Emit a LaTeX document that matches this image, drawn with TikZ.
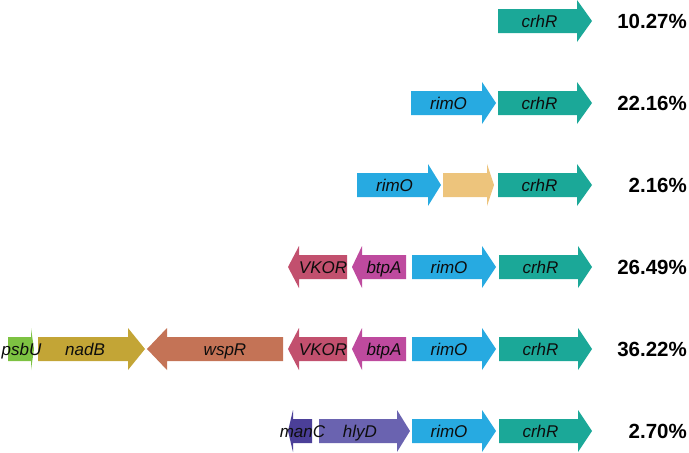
\documentclass[tikz,border=0pt]{standalone}
\usepackage{fontspec}
\setmainfont{Liberation Sans}
\definecolor{crhRc}{HTML}{1BA898}
\definecolor{rimOc}{HTML}{27AAE1}
\definecolor{yelc}{HTML}{EDC47C}
\definecolor{vkorc}{HTML}{C2506E}
\definecolor{btpAc}{HTML}{BE4A9E}
\definecolor{wspRc}{HTML}{C47356}
\definecolor{nadBc}{HTML}{C3A536}
\definecolor{psbUc}{HTML}{7DC242}
\definecolor{manCc}{HTML}{4B3F98}
\definecolor{hlyDc}{HTML}{6A63B0}
\tikzset{
  genelabel/.style={font=\fontsize{17}{17}\selectfont\itshape, anchor=base, inner sep=0pt, text=black!95},
  pct/.style={font=\fontsize{20.5}{21}\selectfont\bfseries, anchor=base east, inner sep=0pt},
}
% right-pointing gene: name, left, head base, tip, y, colour, label
\newcommand\rgene[7]{%
  \fill[#6] (#2,#5-12) -- (#3,#5-12) -- (#3,#5-21) -- (#4,#5) -- (#3,#5+21) -- (#3,#5+12) -- (#2,#5+12) -- cycle;
  \node[genelabel] (#1) at ({(#2+#3)/2+2},#5+6) {#7};}
% left-pointing gene: name, tip, head base, right, y, colour, label
\newcommand\lgene[7]{%
  \fill[#6] (#4,#5-12) -- (#3,#5-12) -- (#3,#5-21) -- (#2,#5) -- (#3,#5+21) -- (#3,#5+12) -- (#4,#5+12) -- cycle;
  \node[genelabel] (#1) at ({(#3+#4)/2},#5+6) {#7};}
\begin{document}
\begin{tikzpicture}[x=1pt,y=-1pt]
\useasboundingbox (0,0) rectangle (689,453);
% row 1
\rgene{crhRa}{498}{577}{592}{21}{crhRc}{crhR}
\node[pct] (pa) at (687,28) {10.27\%};
% row 2
\rgene{rimOb}{411}{482}{496}{103}{rimOc}{rimO}
\rgene{crhRb}{498}{577}{592}{103}{crhRc}{crhR}
\node[pct] (pb) at (687,110) {22.16\%};
% row 3
\rgene{rimOc}{357}{428}{441}{185}{rimOc}{rimO}
\rgene{yelc}{443}{487}{494}{185}{yelc}{}
\rgene{crhRc}{498}{577}{592}{185}{crhRc}{crhR}
\node[pct] (pc) at (687,192) {2.16\%};
% row 4
\lgene{vkord}{288}{299}{347}{267}{vkorc}{VKOR}
\lgene{btpAd}{352}{362}{406}{267}{btpAc}{btpA}
\rgene{rimOd}{412}{482}{496}{267}{rimOc}{rimO}
\rgene{crhRd}{499}{578}{592}{267}{crhRc}{crhR}
\node[pct] (pd) at (687,274) {26.49\%};
% row 5
\rgene{nadBe}{38}{128}{145}{349}{nadBc}{nadB}
\rgene{psbUe}{8}{31}{34}{349}{psbUc}{psbU}
\lgene{wspRe}{147}{167}{283}{349}{wspRc}{wspR}
\lgene{vkore}{288}{299}{347}{349}{vkorc}{VKOR}
\lgene{btpAe}{352}{362}{406}{349}{btpAc}{btpA}
\rgene{rimOe}{412}{482}{496}{349}{rimOc}{rimO}
\rgene{crhRe}{499}{578}{592}{349}{crhRc}{crhR}
\node[pct] (pe) at (687,356) {36.22\%};
% row 6
\rgene{hlyDf}{319}{397}{410}{431}{hlyDc}{hlyD}
\lgene{manCf}{288}{293}{312}{431}{manCc}{manC}
\rgene{rimOf}{412}{482}{496}{431}{rimOc}{rimO}
\rgene{crhRf}{499}{578}{592}{431}{crhRc}{crhR}
\node[pct] (pf) at (687,438) {2.70\%};
\end{tikzpicture}
\end{document}
